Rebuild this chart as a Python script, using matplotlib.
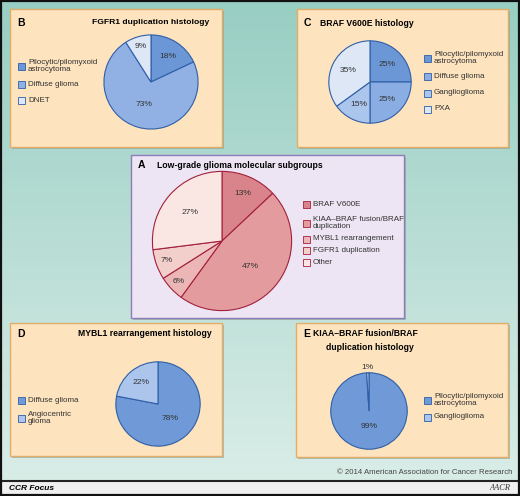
import numpy as np
import matplotlib
matplotlib.use("Agg")
import matplotlib.pyplot as plt
from matplotlib.patches import Rectangle
from matplotlib.colors import LinearSegmentedColormap

plt.rcParams['font.family'] = ['Liberation Sans', 'DejaVu Sans']

# ---- data -------------------------------------------------------------
a_labels = ["BRAF V600E", "KIAA\u2013BRAF fusion/BRAF\nduplication", "MYBL1 rearrangement",
            "FGFR1 duplication", "Other"]
a_values = [13, 47, 6, 7, 27]

b_labels = ["Pilocytic/pilomyxoid\nastrocytoma", "Diffuse glioma", "DNET"]
b_values = [18, 73, 9]

c_labels = ["Pilocytic/pilomyxoid\nastrocytoma", "Diffuse glioma", "Ganglioglioma", "PXA"]
c_values = [25, 25, 15, 35]

d_labels = ["Diffuse glioma", "Angiocentric\nglioma"]
d_values = [78, 22]

e_labels = ["Pilocytic/pilomyxoid\nastrocytoma", "Ganglioglioma"]
e_values = [99, 1]

# ---- colours ----------------------------------------------------------
reds = ['#d9838a', '#e39b9d', '#ecb6b6', '#f3cfcc', '#fae7e4']
red_edge = '#a3203c'
blue_edge = '#2f5fa6'
b_cols = ['#6b97d6', '#91b1e5', '#dde7f6']
c_cols = ['#6b97d6', '#8aaee4', '#abc5ec', '#dde7f6']
d_cols = ['#6f99d7', '#abc5ec']
e_cols = ['#6f99d7', '#abc5ec']
peach, peach_edge = '#fde3be', '#e2ad68'
lav, lav_edge = '#ede5f3', '#8f7bb8'

W, H = 520, 496
fig = plt.figure(figsize=(W / 100, H / 100), dpi=100)
bg = fig.add_axes([0, 0, 1, 1])
bg.set_xlim(0, W)
bg.set_ylim(H, 0)
bg.set_axis_off()

# teal gradient background
grad = np.linspace(0, 1, 256).reshape(-1, 1)
cmap = LinearSegmentedColormap.from_list('bgc', ['#98cec3', '#d9ede7'])
bg.imshow(grad, cmap=cmap, extent=[0, W, 481, 0], aspect='auto', zorder=0)

# bottom bar + frame
bg.add_patch(Rectangle((0, 481), W, 15, facecolor='#efefef', edgecolor='none', zorder=1))
bg.plot([0, W], [481, 481], color='#222222', lw=1.5, zorder=2)
bg.add_patch(Rectangle((0.8, 0.8), W - 1.6, H - 1.6, facecolor='none', edgecolor='#111111',
                       lw=1.6, zorder=10))


def panel(x0, y0, x1, y1, fc, ec):
    bg.add_patch(Rectangle((x0 + 2, y0 + 2), x1 - x0, y1 - y0, facecolor='#7f9c94',
                           edgecolor='none', alpha=0.55, zorder=2))
    bg.add_patch(Rectangle((x0, y0), x1 - x0, y1 - y0, facecolor=fc, edgecolor=ec, lw=1.0, zorder=3))


def legend(x, ys, labels, cols, ec):
    for y, lab, col in zip(ys, labels, cols):
        bg.add_patch(Rectangle((x, y - 3.5), 7, 7, facecolor=col, edgecolor=ec, lw=0.6, zorder=5))
        bg.text(x + 10, y, lab, fontsize=5.8, color='#333333', va='center', ha='left',
                linespacing=1.15, zorder=5)


def pie(cx, cy, r, values, cols, ec, dists):
    ax = fig.add_axes([(cx - r) / W, 1 - (cy + r) / H, 2 * r / W, 2 * r / H])
    wedges, _ = ax.pie(values, colors=cols, startangle=90, counterclock=False,
                       wedgeprops=dict(edgecolor=ec, linewidth=0.8))
    for w, v, d in zip(wedges, values, dists):
        ang = np.deg2rad((w.theta1 + w.theta2) / 2)
        ax.text(d * np.cos(ang), d * np.sin(ang), f"{v}%", ha='center', va='center',
                fontsize=6.1, color='#333333')
    ax.set_xlim(-1.02, 1.02)
    ax.set_ylim(-1.02, 1.02)
    ax.set_axis_off()
    return ax


# ---- panel B ----
panel(10, 9, 222, 147, peach, peach_edge)
bg.text(17, 23, "B", fontsize=7.5, fontweight='bold', va='center', zorder=6)
bg.text(209, 23, "FGFR1 duplication histology", fontsize=6.1, fontweight='bold', ha='right',
        va='center', zorder=6)
legend(18, [66, 84, 100], b_labels, b_cols, blue_edge)
pie(151, 82, 48, b_values, b_cols, blue_edge, [0.65, 0.5, 0.78])

# ---- panel C ----
panel(297, 9, 508, 147, peach, peach_edge)
bg.text(304, 23, "C", fontsize=7.5, fontweight='bold', va='center', zorder=6)
bg.text(320, 23, "BRAF V600E histology", fontsize=6.2, fontweight='bold', ha='left',
        va='center', zorder=6)
legend(424, [58, 76, 93, 109], c_labels, c_cols, blue_edge)
pie(370, 82, 42, c_values, c_cols, blue_edge, [0.6, 0.6, 0.62, 0.6])

# ---- panel A ----
panel(131, 155, 404, 318, lav, lav_edge)
bg.text(138, 165, "A", fontsize=7.5, fontweight='bold', va='center', zorder=6)
bg.text(157, 165, "Low-grade glioma molecular subgroups", fontsize=6.2, fontweight='bold',
        ha='left', va='center', zorder=6)
legend(303, [204, 223, 239, 250, 262], a_labels, reds, red_edge)
pie(222, 241, 71, a_values, reds, red_edge, [0.74, 0.55, 0.86, 0.84, 0.62])

# ---- panel D ----
panel(10, 323, 222, 456, peach, peach_edge)
bg.text(17, 334, "D", fontsize=7.5, fontweight='bold', va='center', zorder=6)
bg.text(212, 334, "MYBL1 rearrangement histology", fontsize=6.2, fontweight='bold', ha='right',
        va='center', zorder=6)
legend(18, [400, 418], d_labels, d_cols, blue_edge)
pie(158, 404, 43, d_values, d_cols, blue_edge, [0.45, 0.65])

# ---- panel E ----
panel(296, 323, 508, 457, peach, peach_edge)
bg.text(303, 334, "E", fontsize=7.5, fontweight='bold', va='center', zorder=6)
bg.text(313, 334, "KIAA\u2013BRAF fusion/BRAF", fontsize=6.2, fontweight='bold', ha='left',
        va='center', zorder=6)
bg.text(370, 348, "duplication histology", fontsize=6.2, fontweight='bold', ha='center',
        va='center', zorder=6)
legend(424, [400, 417], e_labels, e_cols, blue_edge)
ax_e = pie(369, 411, 39, e_values, e_cols, blue_edge, [0.4, 1.15])
ax_e.texts[0].set_position((0, -0.4))
ax_e.texts[1].set_position((0, 1.15))

# ---- footer ----
bg.text(512, 473, "\u00a9 2014 American Association for Cancer Research", fontsize=5.6,
        color='#444444', ha='right', va='center', zorder=6)
bg.text(9, 488.5, "CCR Focus", fontsize=6, fontweight='bold', style='italic', ha='left',
        va='center', zorder=6)
bg.text(510, 488.5, "AACR", fontsize=6, style='italic', family='Liberation Serif',
        ha='right', va='center', zorder=6, color='#333333')

fig.savefig("out.png", dpi=100)
